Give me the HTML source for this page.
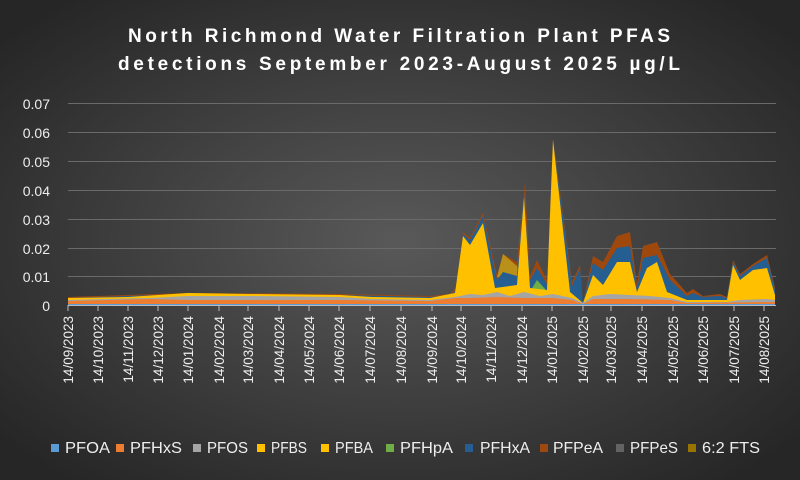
<!DOCTYPE html>
<html><head><meta charset="utf-8"><style>
body{margin:0;width:800px;height:480px;overflow:hidden;background:#333;}
svg{display:block}
text{font-family:"Liberation Sans",sans-serif;}
</style></head><body>
<svg width="800" height="480" viewBox="0 0 800 480">
<defs>
<radialGradient id="bg" cx="50%" cy="50%" r="65%">
<stop offset="0" stop-color="#595959"/><stop offset="1" stop-color="#262626"/>
</radialGradient>
</defs>
<rect width="800" height="480" fill="url(#bg)"/>
<text x="128" y="42" fill="#fff" font-size="19" font-weight="bold" textLength="542" lengthAdjust="spacing">North Richmond Water Filtration Plant PFAS</text>
<text x="118" y="70" fill="#fff" font-size="19" font-weight="bold" textLength="562" lengthAdjust="spacing">detections September 2023-August 2025 µg/L</text>
<g stroke="#6a6a6a" stroke-width="1">
<line x1="68" y1="103.5" x2="776" y2="103.5"/><line x1="68" y1="132.5" x2="776" y2="132.5"/>
<line x1="68" y1="161.5" x2="776" y2="161.5"/><line x1="68" y1="190.5" x2="776" y2="190.5"/>
<line x1="68" y1="219.5" x2="776" y2="219.5"/><line x1="68" y1="248.5" x2="776" y2="248.5"/>
<line x1="68" y1="276.5" x2="776" y2="276.5"/>
</g>
<g fill="#eee" font-size="14" text-anchor="end">
<text x="50" y="109">0.07</text><text x="50" y="138">0.06</text><text x="50" y="167">0.05</text>
<text x="50" y="196">0.04</text><text x="50" y="225">0.03</text><text x="50" y="254">0.02</text>
<text x="50" y="282">0.01</text><text x="50" y="311">0</text>
</g>
<polygon fill="#9e480e" points="68,305 68,297 188,293 340,294 430,296 450,294 458,286 463,232 470,238 483,213 497,275 503,254 517,262 525,183 530,276 537,260 547,280 553,138 572,282 580,265 583,303 593,256 603,262 617,236 630,232 637,284 643,246 657,242 670,274 687,293 693,289 703,296 720,294 727,297 733,260 740,274 753,264 767,255 775,288 775,305"/>
<polygon fill="#b8901a" points="497,277 503,254 517,266 522,282"/>
<polygon fill="#255e91" points="68,305 68,298 188,294 340,295 430,297 450,295 458,289 463,234 470,240 483,216 497,280 503,272 517,276 524,192 530,280 537,268 547,284 553,140 572,286 580,268 583,303 593,263 603,270 617,248 630,246 637,289 643,258 657,255 670,280 687,296 693,293 703,297 720,296 727,298 733,262 740,276 753,266 767,258 775,290 775,305"/>
<polygon fill="#70ad47" points="531,290 537,280 546,290"/>
<polygon fill="#ffc000" points="68,305 68,298 128,297 188,293 250,294 340,295 372,297 430,298 455,293 463,236 470,245 483,223 495,288 517,285 524,197 530,288 547,290 553,140 570,292 583,303 593,275 603,285 617,262 630,262 637,292 647,268 657,262 667,292 687,300 727,300 733,265 740,280 753,270 767,268 775,295 775,305"/>
<polygon fill="#a5a5a5" points="68,305 68,300 150,298 188,296 250,296 340,297 372,299 430,300 455,297 470,294 483,295 497,292 510,296 524,292 540,296 553,294 572,298 583,303 593,296 610,294 630,295 650,296 670,298 687,302 727,302 740,300 767,299 775,300 775,305"/>
<polygon fill="#ed7d31" points="68,305 68,301 150,299 188,300 340,300 430,301 455,298 470,298 497,297 524,298 553,298 572,300 583,304 593,299 630,299 670,300 687,303 775,302 775,305"/>
<polygon fill="#5b9bd5" points="68,305 68,304 775,304 775,305"/>
<line x1="68" y1="305.5" x2="776" y2="305.5" stroke="#bbb"/>
<g stroke="#bbb">
<line x1="68" y1="305" x2="68" y2="311"/><line x1="98" y1="305" x2="98" y2="311"/><line x1="128" y1="305" x2="128" y2="311"/><line x1="158" y1="305" x2="158" y2="311"/><line x1="188" y1="305" x2="188" y2="311"/><line x1="219" y1="305" x2="219" y2="311"/><line x1="248" y1="305" x2="248" y2="311"/><line x1="279" y1="305" x2="279" y2="311"/><line x1="309" y1="305" x2="309" y2="311"/><line x1="339" y1="305" x2="339" y2="311"/><line x1="370" y1="305" x2="370" y2="311"/><line x1="401" y1="305" x2="401" y2="311"/><line x1="432" y1="305" x2="432" y2="311"/><line x1="461" y1="305" x2="461" y2="311"/><line x1="491" y1="305" x2="491" y2="311"/><line x1="522" y1="305" x2="522" y2="311"/><line x1="552" y1="305" x2="552" y2="311"/><line x1="583" y1="305" x2="583" y2="311"/><line x1="611" y1="305" x2="611" y2="311"/><line x1="642" y1="305" x2="642" y2="311"/><line x1="673" y1="305" x2="673" y2="311"/><line x1="703" y1="305" x2="703" y2="311"/><line x1="734" y1="305" x2="734" y2="311"/><line x1="764" y1="305" x2="764" y2="311"/>
</g>
<g fill="#eee" font-size="13.5" text-anchor="end">
<text transform="translate(73,316) rotate(-90)">14/09/2023</text>
<text transform="translate(103,316) rotate(-90)">14/10/2023</text>
<text transform="translate(133,316) rotate(-90)">14/11/2023</text>
<text transform="translate(163,316) rotate(-90)">14/12/2023</text>
<text transform="translate(193,316) rotate(-90)">14/01/2024</text>
<text transform="translate(224,316) rotate(-90)">14/02/2024</text>
<text transform="translate(253,316) rotate(-90)">14/03/2024</text>
<text transform="translate(284,316) rotate(-90)">14/04/2024</text>
<text transform="translate(314,316) rotate(-90)">14/05/2024</text>
<text transform="translate(344,316) rotate(-90)">14/06/2024</text>
<text transform="translate(375,316) rotate(-90)">14/07/2024</text>
<text transform="translate(406,316) rotate(-90)">14/08/2024</text>
<text transform="translate(437,316) rotate(-90)">14/09/2024</text>
<text transform="translate(466,316) rotate(-90)">14/10/2024</text>
<text transform="translate(496,316) rotate(-90)">14/11/2024</text>
<text transform="translate(527,316) rotate(-90)">14/12/2024</text>
<text transform="translate(557,316) rotate(-90)">14/01/2025</text>
<text transform="translate(588,316) rotate(-90)">14/02/2025</text>
<text transform="translate(616,316) rotate(-90)">14/03/2025</text>
<text transform="translate(647,316) rotate(-90)">14/04/2025</text>
<text transform="translate(678,316) rotate(-90)">14/05/2025</text>
<text transform="translate(708,316) rotate(-90)">14/06/2025</text>
<text transform="translate(739,316) rotate(-90)">14/07/2025</text>
<text transform="translate(769,316) rotate(-90)">14/08/2025</text>
</g>
<g font-size="16" fill="#eee">
<rect x="51" y="444" width="8" height="8" fill="#5b9bd5"/><text x="65" y="453" textLength="45" lengthAdjust="spacingAndGlyphs">PFOA</text>
<rect x="116" y="444" width="8" height="8" fill="#ed7d31"/><text x="130" y="453" textLength="52" lengthAdjust="spacingAndGlyphs">PFHxS</text>
<rect x="193" y="444" width="8" height="8" fill="#a5a5a5"/><text x="207" y="453" textLength="41" lengthAdjust="spacingAndGlyphs">PFOS</text>
<rect x="257" y="444" width="8" height="8" fill="#ffc000"/><text x="271" y="453" textLength="36" lengthAdjust="spacingAndGlyphs">PFBS</text>
<rect x="321" y="444" width="8" height="8" fill="#ffc000"/><text x="335" y="453" textLength="38" lengthAdjust="spacingAndGlyphs">PFBA</text>
<rect x="386" y="444" width="8" height="8" fill="#70ad47"/><text x="400" y="453" textLength="53" lengthAdjust="spacingAndGlyphs">PFHpA</text>
<rect x="465" y="444" width="8" height="8" fill="#255e91"/><text x="480" y="453" textLength="50" lengthAdjust="spacingAndGlyphs">PFHxA</text>
<rect x="540" y="444" width="8" height="8" fill="#9e480e"/><text x="553" y="453" textLength="50" lengthAdjust="spacingAndGlyphs">PFPeA</text>
<rect x="616" y="444" width="8" height="8" fill="#636363"/><text x="630" y="453" textLength="48" lengthAdjust="spacingAndGlyphs">PFPeS</text>
<rect x="688" y="444" width="8" height="8" fill="#997300"/><text x="702" y="453" textLength="58" lengthAdjust="spacingAndGlyphs">6:2 FTS</text>
</g>
</svg>
</body></html>
